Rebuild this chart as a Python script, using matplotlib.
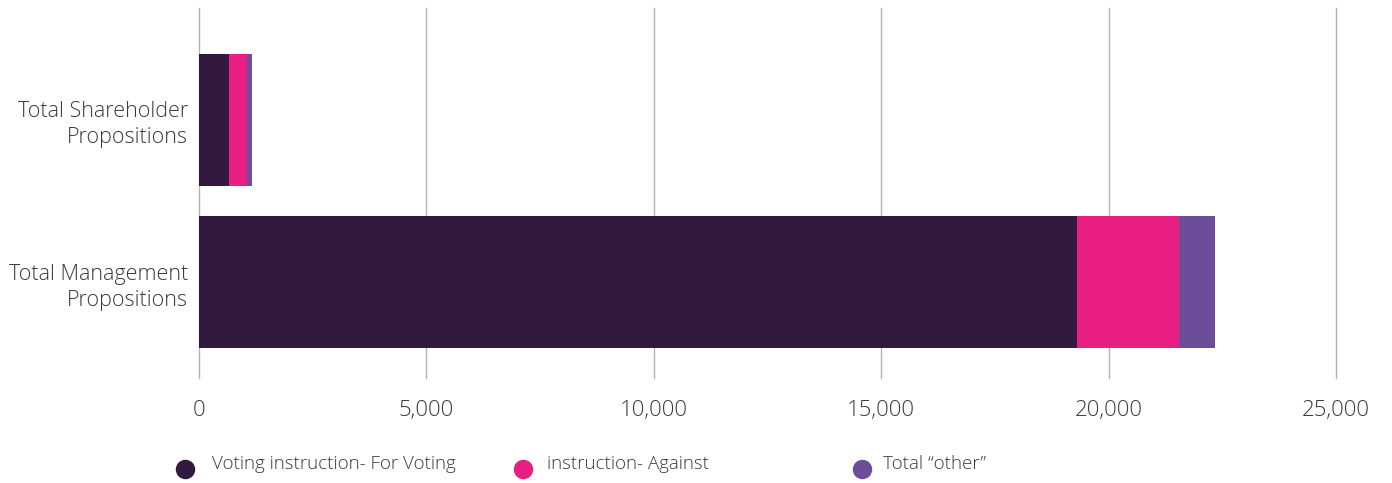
import matplotlib
matplotlib.use("Agg")
import matplotlib.pyplot as plt
from matplotlib.lines import Line2D

# Data
categories = ["Total Shareholder\nPropositions", "Total Management\nPropositions"]
series_names = ["Voting instruction- For Voting", "instruction- Against", "Total \u201cother\u201d"]
votes_for = [670, 19305]
votes_against = [396, 2243]
votes_other = [110, 792]
x_ticks = [0, 5000, 10000, 15000, 20000, 25000]
x_tick_labels = ["0", "5,000", "10,000", "15,000", "20,000", "25,000"]

colors = ["#311a3e", "#e91e82", "#6b4d9a"]
text_color = "#3a3a3a"

plt.rcParams["font.family"] = ["Open Sans", "DejaVu Sans"]

W, H = 1392, 483
fig = plt.figure(figsize=(W / 100, H / 100), dpi=100)
ax = fig.add_axes([199 / W, 1 - 378 / H, (1336 - 199) / W, (378 - 8) / H])

ypos = [0, 1]
bar_h = 0.815
left = [0, 0]
for vals, c, name in zip([votes_for, votes_against, votes_other], colors, series_names):
    ax.barh(ypos, vals, left=left, height=bar_h, color=c, label=name, zorder=3)
    left = [l + v for l, v in zip(left, vals)]

ax.set_xlim(0, 25000)
ax.set_ylim(1 + 0.59, -0.69)
ax.set_xticks(x_ticks)
ax.set_xticklabels(x_tick_labels, fontsize=16, color=text_color, fontweight="light")
ax.set_yticks(ypos)
ax.set_yticklabels(categories, fontsize=15.5, color=text_color, fontweight="light",
                   linespacing=1.3)
ax.tick_params(axis="both", length=0)
ax.tick_params(axis="x", pad=16)
ax.tick_params(axis="y", pad=8)
ax.grid(axis="x", color="#b4b4b4", linewidth=1.0, zorder=0)
for gl in ax.get_xgridlines():
    gl.set_clip_on(False)
for s in ax.spines.values():
    s.set_visible(False)

# Legend row
legend_marker_x = [185, 523, 862]
legend_text_x = [212, 547, 883]
for mx, tx, c, name in zip(legend_marker_x, legend_text_x, colors, series_names):
    fig.add_artist(Line2D([mx / W], [1 - 469 / H], marker="o", markersize=13,
                          color=c, linestyle="none", transform=fig.transFigure))
    fig.text(tx / W, 1 - 464 / H, name, fontsize=13.5, color=text_color,
             fontweight="light", va="center", ha="left")

fig.savefig("out.png", dpi=100)
